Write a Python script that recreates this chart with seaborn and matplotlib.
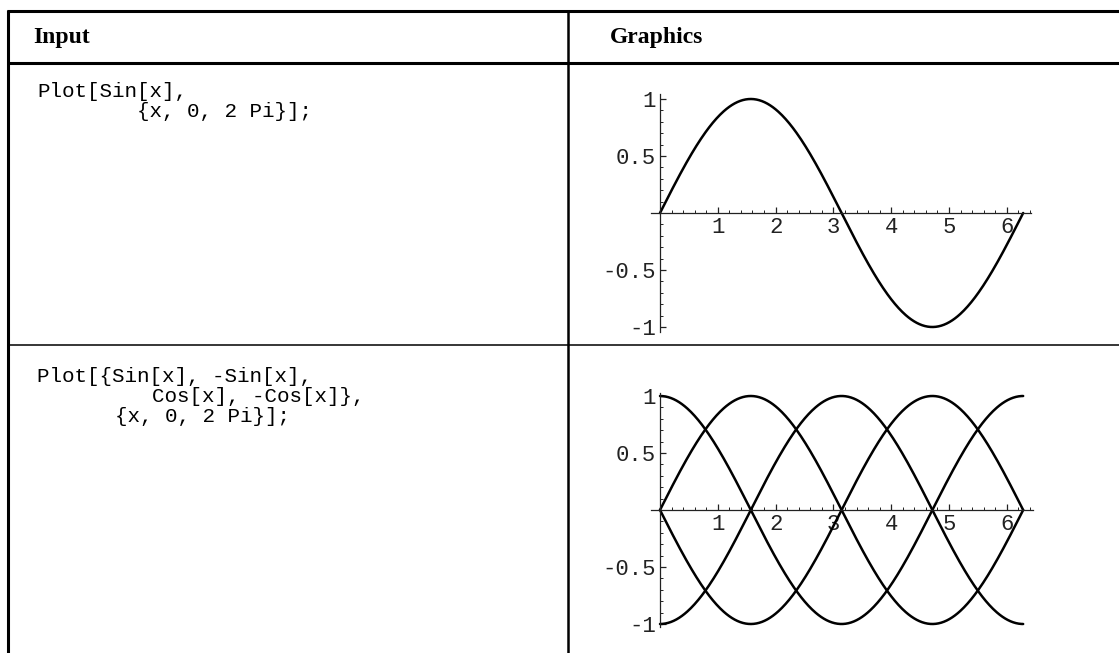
import numpy as np
import pandas as pd
import matplotlib
matplotlib.use("Agg")
import matplotlib.pyplot as plt
from matplotlib.lines import Line2D
from matplotlib.ticker import FixedLocator, FixedFormatter
import seaborn as sns

sns.set_theme(style="white")
plt.rcParams["font.family"] = ["Liberation Mono", "DejaVu Sans Mono"]
plt.rcParams["axes.unicode_minus"] = False

# ---- content -------------------------------------------------------------
headers = ["Input", "Graphics"]
code_row1 = ["Plot[Sin[x],", "{x, 0, 2 Pi}];"]
code_row2 = ["Plot[{Sin[x], -Sin[x],", "Cos[x], -Cos[x]},", "{x, 0, 2 Pi}];"]

x_vals = np.linspace(0, 2 * np.pi, 400)
sin_vals = np.sin(x_vals)
neg_sin_vals = -np.sin(x_vals)
cos_vals = np.cos(x_vals)
neg_cos_vals = -np.cos(x_vals)

x_major = [1, 2, 3, 4, 5, 6]
x_labels = ["1", "2", "3", "4", "5", "6"]
y_major = [-1, -0.5, 0.5, 1]
y_labels = ["-1", "-0.5", "0.5", "1"]

# ---- figure geometry (pixels) -------------------------------------------
W, H = 1119, 653
fig = plt.figure(figsize=(W / 100, H / 100), dpi=100)
fig.patch.set_facecolor("white")


def fx(px):
    return px / W


def fy(py):
    return 1 - py / H


def hline(y, x0, x1, lw):
    fig.add_artist(Line2D([fx(x0), fx(x1)], [fy(y), fy(y)],
                          transform=fig.transFigure, color="black", lw=lw,
                          solid_capstyle="butt"))


def vline(x, y0, y1, lw):
    fig.add_artist(Line2D([fx(x), fx(x)], [fy(y0), fy(y1)],
                          transform=fig.transFigure, color="black", lw=lw,
                          solid_capstyle="butt"))


# table rules
hline(11, 7, W, 2.2)
hline(63, 7, W, 2.2)
hline(345, 7, W, 1.1)
vline(8, 10, H, 2.2)
vline(568, 10, H, 1.8)

# header cells
serif = ["Liberation Serif", "DejaVu Serif"]
fig.text(fx(33), fy(38), headers[0], family=serif, weight="bold",
         fontsize=17, va="center", ha="left", color="black")
fig.text(fx(610), fy(38), headers[1], family=serif, weight="bold",
         fontsize=17, va="center", ha="left", color="black")

# input cells
mono = ["Liberation Mono", "DejaVu Sans Mono"]
CODE_SIZE = 15
for txt, (x, y) in zip(code_row1, [(37, 97), (137, 117)]):
    fig.text(fx(x), fy(y), txt, family=mono, fontsize=CODE_SIZE,
             va="baseline", ha="left", color="black")
for txt, (x, y) in zip(code_row2, [(37, 382), (152, 402), (115, 422)]):
    fig.text(fx(x), fy(y), txt, family=mono, fontsize=CODE_SIZE,
             va="baseline", ha="left", color="black")


def make_axes(left, right, top, bottom, x0, y0, sx, sy):
    """Axes occupying a pixel box, with data origin at (x0, y0) px."""
    ax = fig.add_axes([fx(left), fy(bottom), (right - left) / W,
                       (bottom - top) / H])
    ax.set_xlim((left - x0) / sx, (right - x0) / sx)
    ax.set_ylim((y0 - bottom) / sy, (y0 - top) / sy)
    ax.patch.set_visible(False)
    return ax


def style_axes(ax, xbounds, ybounds):
    for side in ["top", "right"]:
        ax.spines[side].set_visible(False)
    for side in ["left", "bottom"]:
        ax.spines[side].set_position(("data", 0))
        ax.spines[side].set_color("#222222")
        ax.spines[side].set_linewidth(0.9)
    ax.spines["bottom"].set_bounds(*xbounds)
    ax.spines["left"].set_bounds(*ybounds)

    x_minor = [round(v, 1) for v in np.arange(0.2, xbounds[1], 0.2)]
    y_minor = [round(v, 1) for v in np.arange(-1.0, 1.01, 0.1)
               if abs(v) > 1e-9]
    ax.xaxis.set_major_locator(FixedLocator(x_major))
    ax.xaxis.set_major_formatter(FixedFormatter(x_labels))
    ax.xaxis.set_minor_locator(FixedLocator(x_minor))
    ax.yaxis.set_major_locator(FixedLocator(y_major))
    ax.yaxis.set_major_formatter(FixedFormatter(y_labels))
    ax.yaxis.set_minor_locator(FixedLocator(y_minor))
    ax.tick_params(which="major", direction="in", length=4, width=0.9,
                   color="#222222", labelsize=16, pad=3,
                   bottom=True, left=True, labelcolor="#222222")
    ax.tick_params(which="minor", direction="in", length=2, width=0.7,
                   color="#222222", bottom=True, left=True)
    ax.set_xlabel("")
    ax.set_ylabel("")
    for lab in ax.get_xticklabels() + ax.get_yticklabels():
        lab.set_family(mono)


SX, SY = 57.8, 114.0

# first graphic: Sin[x]
ax1 = make_axes(590, 1075, 70, 340, 660, 213, SX, SY)
df1 = pd.DataFrame({"x": x_vals, "y": sin_vals})
sns.lineplot(data=df1, x="x", y="y", ax=ax1, color="black", lw=1.8,
             estimator=None, sort=False)
style_axes(ax1, (-0.16, 6.42), (-1.04, 1.04))

# second graphic: four curves
ax2 = make_axes(590, 1075, 352, 650, 660, 510, SX, SY)
df2 = pd.concat([
    pd.DataFrame({"x": x_vals, "y": vals, "curve": name})
    for name, vals in [("Sin", sin_vals), ("-Sin", neg_sin_vals),
                       ("Cos", cos_vals), ("-Cos", neg_cos_vals)]
])
sns.lineplot(data=df2, x="x", y="y", units="curve", ax=ax2, color="black",
             lw=1.8, estimator=None, sort=False)
style_axes(ax2, (-0.16, 6.45), (-1.03, 1.03))

fig.savefig("out.png", dpi=100, facecolor="white")
